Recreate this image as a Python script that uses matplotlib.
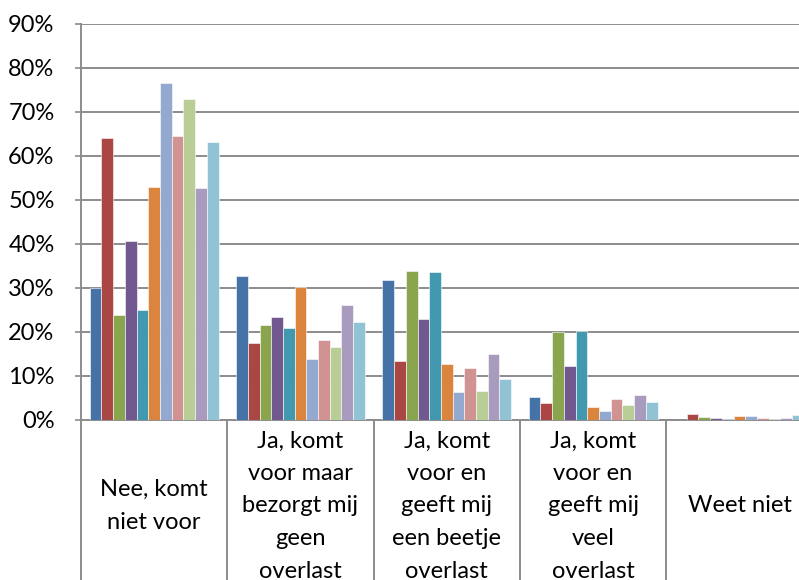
import matplotlib
matplotlib.use("Agg")
import matplotlib.pyplot as plt
import matplotlib.ticker as mticker
import numpy as np

# data
categories = [
    "Nee, komt\nniet voor",
    "Ja, komt\nvoor maar\nbezorgt mij\ngeen\noverlast",
    "Ja, komt\nvoor en\ngeeft mij\neen beetje\noverlast",
    "Ja, komt\nvoor en\ngeeft mij\nveel\noverlast",
    "Weet niet",
]

series_1 = [30.1, 32.7, 31.9, 5.2, 0.0]
series_2 = [64.0, 17.5, 13.3, 3.9, 1.3]
series_3 = [23.9, 21.6, 33.9, 19.9, 0.7]
series_4 = [40.6, 23.4, 23.0, 12.3, 0.4]
series_5 = [25.0, 20.8, 33.6, 20.2, 0.3]
series_6 = [53.0, 30.3, 12.7, 3.0, 0.9]
series_7 = [76.5, 13.9, 6.4, 2.0, 1.0]
series_8 = [64.6, 18.2, 11.9, 4.7, 0.5]
series_9 = [73.0, 16.5, 6.7, 3.4, 0.2]
series_10 = [52.7, 26.1, 15.1, 5.7, 0.4]
series_11 = [63.2, 22.3, 9.4, 4.0, 1.1]

all_series = [series_1, series_2, series_3, series_4, series_5, series_6,
              series_7, series_8, series_9, series_10, series_11]

kleuren = ['#4572A7', '#AA4643', '#89A54E', '#71588F', '#4198AF', '#DB843D',
           '#93A9CF', '#D19392', '#B9CD96', '#A99BBD', '#92C3D4']

plt.rcParams['font.family'] = ['Lato', 'DejaVu Sans']

fig = plt.figure(figsize=(7.99, 5.8), dpi=100)
# axes runs a bit past the right edge, like the cut-off original
ax = fig.add_axes([81 / 799, 160 / 580, 731.6 / 799, 396 / 580])

n = len(all_series)
bar_w = 1 / (n + 1.5)
x = np.arange(len(categories))
for i, (vals, kleur) in enumerate(zip(all_series, kleuren)):
    pos = x - n * bar_w / 2 + (i + 0.5) * bar_w
    ax.bar(pos, np.array(vals) / 100, width=bar_w, color=kleur,
           edgecolor='white', linewidth=0.4, zorder=3)

ax.set_xlim(-0.5, len(categories) - 0.5)
ax.set_ylim(0, 0.9)
ax.yaxis.set_major_locator(mticker.MultipleLocator(0.1))
ax.yaxis.set_major_formatter(mticker.FuncFormatter(lambda v, p: f'{v * 100:.0f}%'))
ax.grid(axis='y', color='#8c8c8c', linewidth=1.4, zorder=0)
ax.tick_params(axis='y', direction='out', length=4, width=1.2, color='#8c8c8c',
               pad=15, labelsize=17)
ax.set_xticks([])

for kant in ['top', 'right']:
    ax.spines[kant].set_visible(False)
for kant in ['left', 'bottom']:
    ax.spines[kant].set_color('#8c8c8c')
    ax.spines[kant].set_linewidth(1.4)

# tabel-achtige categorie-labels onder de as
onder = -161 / 396
grenzen = np.arange(len(categories) + 1) - 0.5
ax.vlines(grenzen, onder, 0, transform=ax.get_xaxis_transform(), colors='#8c8c8c',
          linewidth=1.4, clip_on=False)
for xi, label in zip(x, categories):
    ax.text(xi, -86 / 396, label, transform=ax.get_xaxis_transform(), ha='center',
            va='center', fontsize=17, linespacing=1.68, clip_on=False)

fig.savefig("out.png", dpi=100)
